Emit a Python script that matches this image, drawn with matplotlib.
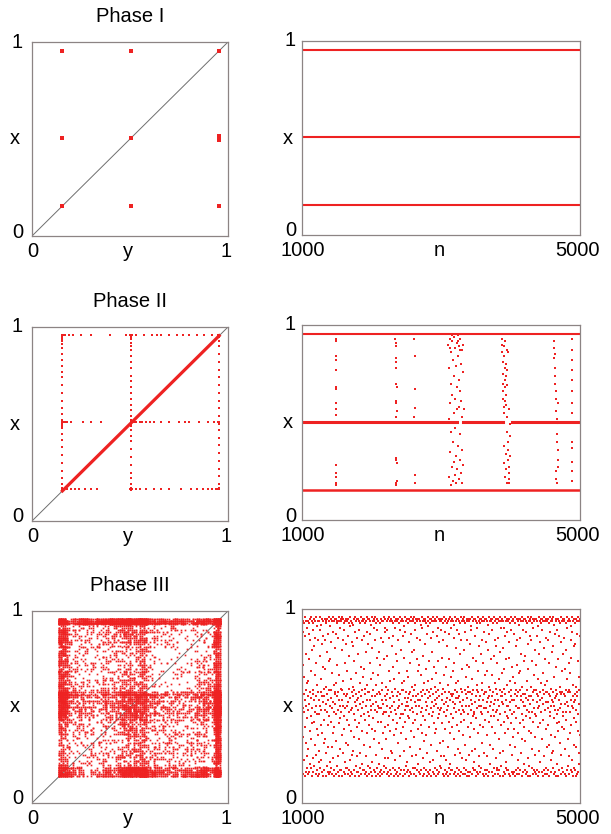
import numpy as np
import matplotlib.pyplot as plt

plt.rcParams['font.family'] = ['Liberation Sans', 'DejaVu Sans']

RED = '#ee2222'
SPINE = '#8c8484'
DIAG = '#6e6e6e'
FS = 14.5
PX = 0.72  # points per pixel at dpi 100

# ---------------- data ----------------
# Phase I : period-3 cycle
p1_levels = [0.155, 0.505, 0.955]
p1_map_y = [0.155, 0.505, 0.955, 0.155, 0.505, 0.955, 0.955, 0.155, 0.505, 0.955]
p1_map_x = [0.955, 0.955, 0.955, 0.505, 0.505, 0.497, 0.513, 0.155, 0.155, 0.155]
n_range = [1000, 5000]

# Phase II : synchronised diagonal + desync excursions
p2_diag = [0.155, 0.955]
p2_levels = [0.155, 0.505, 0.955]
p2_top_seg = [(1000, 5000)]
p2_mid_seg = [(1000, 3228), (3318, 3898), (4015, 4655), (4690, 5000)]
p2_bot_seg = [(1000, 5000)]

p2_burst_n = [1485, 1488, 1490, 1492, 1489, 1491, 1487, 1493, 1490, 1488, 1492, 1490, 1494, 1486, 1489,
              2345, 2350, 2352, 2355, 2357, 2358, 2356, 2360, 2354, 2358, 2362, 2350, 2356, 2359, 2361, 2363, 2348, 2353,
              2618, 2620, 2619, 2621, 2617, 2622, 2620,
              3105, 3110, 3118, 3120, 3125, 3130, 3135, 3138, 3140, 3145, 3150, 3155, 3160, 3163, 3168, 3172, 3175,
              3180, 3184, 3188, 3192, 3196, 3200, 3204, 3208, 3212, 3216, 3220, 3224, 3228, 3232, 3236, 3240, 3244,
              3248, 3252, 3256, 3260, 3264, 3268, 3272, 3276, 3280, 3284, 3288, 3292, 3296, 3300, 3304, 3308, 3312,
              3316, 3320, 3324, 3280, 3240, 3160, 3130,
              3875, 3880, 3884, 3888, 3890, 3893, 3896, 3899, 3902, 3905, 3908, 3911, 3914, 3917, 3920, 3924, 3927,
              3930, 3933, 3936, 3940, 3943, 3946, 3950, 3953, 3956, 3960, 3964, 3968, 3972, 3976, 3980, 3985, 3990,
              3995, 3900, 3910, 3920, 3930, 3940, 3950, 3960, 3975, 3990,
              4620, 4625, 4630, 4635, 4640, 4645, 4650, 4655, 4660, 4665, 4670, 4675, 4680, 4684, 4688, 4650, 4660,
              4670, 4640, 4680,
              4878, 4880, 4882, 4879, 4881, 4883, 4880, 4882, 4879, 4881, 4884, 4880, 4882]
p2_burst_x = [0.93, 0.92, 0.84, 0.82, 0.77, 0.68, 0.67, 0.60, 0.57, 0.54, 0.28, 0.24, 0.22, 0.19, 0.18,
              0.93, 0.91, 0.89, 0.83, 0.81, 0.78, 0.70, 0.68, 0.61, 0.60, 0.56, 0.53, 0.32, 0.31, 0.29, 0.20, 0.19, 0.18,
              0.93, 0.84, 0.67, 0.575, 0.53, 0.23, 0.19,
              0.90, 0.52, 0.22, 0.78, 0.60, 0.35, 0.93, 0.18, 0.70, 0.45, 0.86, 0.27, 0.64, 0.92, 0.40, 0.20, 0.82,
              0.55, 0.30, 0.74, 0.94, 0.23, 0.62, 0.88, 0.47, 0.33, 0.79, 0.19, 0.57, 0.91, 0.68, 0.26, 0.84, 0.38,
              0.95, 0.72, 0.21, 0.58, 0.89, 0.31, 0.66, 0.93, 0.44, 0.24, 0.80, 0.61, 0.36, 0.87, 0.19, 0.53, 0.76,
              0.28, 0.90, 0.57, 0.87, 0.92, 0.95, 0.88,
              0.93, 0.90, 0.86, 0.81, 0.75, 0.70, 0.66, 0.62, 0.58, 0.55, 0.89, 0.84, 0.78, 0.72, 0.68, 0.61, 0.92,
              0.80, 0.74, 0.64, 0.59, 0.87, 0.77, 0.69, 0.53, 0.45, 0.40, 0.36, 0.31, 0.27, 0.24, 0.21, 0.19, 0.43,
              0.33, 0.38, 0.29, 0.22, 0.34, 0.26, 0.19, 0.86, 0.57, 0.49,
              0.92, 0.88, 0.83, 0.78, 0.74, 0.70, 0.66, 0.62, 0.56, 0.52, 0.44, 0.40, 0.36, 0.31, 0.27, 0.25, 0.21,
              0.19, 0.85, 0.60,
              0.93, 0.87, 0.82, 0.77, 0.72, 0.66, 0.60, 0.55, 0.40, 0.37, 0.30, 0.25, 0.20]

# Phase II return plot: excursions along the grid lines
p2_col_y = [0.155, 0.505, 0.955]
p2_col_x = [
    [0.96, 0.955, 0.95, 0.94, 0.93, 0.91, 0.89, 0.86, 0.83, 0.80, 0.77, 0.74, 0.70, 0.66, 0.62, 0.58,
     0.55, 0.52, 0.51, 0.50, 0.49, 0.48, 0.45, 0.42, 0.38, 0.34, 0.30, 0.26, 0.22, 0.19, 0.17, 0.165],
    [0.96, 0.955, 0.95, 0.94, 0.92, 0.90, 0.88, 0.85, 0.82, 0.79, 0.75, 0.72, 0.69, 0.66, 0.63, 0.60,
     0.57, 0.54, 0.52, 0.51, 0.50, 0.49, 0.47, 0.44, 0.41, 0.37, 0.33, 0.29, 0.25, 0.22, 0.19, 0.17, 0.165, 0.16],
    [0.95, 0.93, 0.90, 0.86, 0.82, 0.78, 0.74, 0.70, 0.66, 0.62, 0.58, 0.54, 0.51, 0.50, 0.47, 0.43,
     0.39, 0.35, 0.31, 0.27, 0.23, 0.19, 0.17, 0.165],
]
p2_row_x = [0.96, 0.512, 0.164]
p2_row_y = [
    [0.155, 0.16, 0.17, 0.19, 0.21, 0.25, 0.30, 0.40, 0.48, 0.50, 0.51, 0.53, 0.57, 0.61, 0.64, 0.66,
     0.70, 0.74, 0.77, 0.80, 0.84, 0.88, 0.92, 0.95],
    [0.16, 0.17, 0.18, 0.20, 0.26, 0.30, 0.35, 0.52, 0.53, 0.55, 0.56, 0.58, 0.60, 0.62, 0.66, 0.70,
     0.75, 0.78, 0.80, 0.85, 0.90, 0.93, 0.95],
    [0.16, 0.18, 0.20, 0.22, 0.24, 0.27, 0.30, 0.33, 0.50, 0.51, 0.53, 0.55, 0.58, 0.62, 0.66, 0.70,
     0.76, 0.81, 0.84, 0.87, 0.90, 0.92, 0.94, 0.95],
]

# Phase III : x(n) in percent, n = 1000..5000
p3_x = [
    95, 52, 17, 88, 49, 71, 15, 34, 94, 56, 22, 93, 47, 65, 14, 86, 53, 39, 96, 16, 58, 77, 31, 94, 50, 18, 90, 44, 62, 24,
    48, 94, 15, 63, 55, 28, 93, 87, 16, 51, 74, 37, 95, 20, 57, 84, 45, 18, 96, 68, 33, 54, 14, 94, 79, 49, 41, 89, 23, 56,
    16, 93, 58, 81, 42, 95, 53, 19, 66, 30, 94, 85, 47, 15, 55, 72, 25, 96, 50, 38, 17, 91, 61, 46, 94, 14, 35, 57, 84, 21,
    94, 46, 27, 53, 15, 76, 96, 89, 50, 18, 40, 57, 92, 64, 22, 48, 16, 82, 95, 55, 36, 14, 70, 52, 94, 86, 43, 17, 59, 31,
    55, 17, 95, 69, 48, 33, 84, 94, 14, 51, 60, 26, 93, 47, 19, 78, 56, 95, 40, 87, 16, 53, 29, 94, 73, 45, 15, 58, 96, 21,
    91, 50, 16, 74, 58, 42, 95, 18, 83, 54, 29, 94, 67, 15, 49, 36, 96, 88, 52, 23, 17, 61, 94, 47, 39, 14, 56, 80, 95, 57,
    51, 95, 62, 15, 46, 87, 32, 94, 55, 19, 71, 93, 48, 24, 16, 57, 85, 41, 96, 53, 14, 66, 94, 28, 50, 90, 17, 44, 95, 59,
    17, 94, 47, 79, 53, 35, 96, 14, 58, 84, 26, 95, 50, 63, 16, 45, 93, 38, 56, 89, 21, 94, 15, 72, 49, 55, 31, 95, 18, 82,
    94, 56, 18, 43, 50, 68, 95, 86, 15, 52, 30, 93, 76, 47, 17, 59, 40, 96, 22, 54, 14, 91, 64, 48, 94, 37, 16, 57, 83, 25,
    49, 93, 15, 60, 55, 27, 92, 81, 17, 46, 73, 58, 95, 34, 14, 52, 88, 96, 43, 19, 56, 67, 94, 50, 16, 39, 85, 53, 24, 95,
    95, 16, 54, 77, 48, 33, 94, 57, 14, 89, 41, 62, 93, 51, 18, 26, 96, 45, 70, 55, 15, 84, 94, 37, 49, 20, 58, 95, 65, 17,
    52, 94, 17, 69, 46, 86, 95, 30, 56, 15, 43, 93, 59, 78, 16, 50, 24, 94, 88, 53, 36, 14, 61, 96, 47, 57, 19, 82, 95, 40,
    15, 95, 57, 45, 72, 94, 53, 18, 29, 87, 50, 92, 64, 16, 48, 38, 96, 55, 21, 80, 14, 51, 94, 67, 44, 58, 17, 90, 95, 33,
    94, 48, 16, 84, 55, 37, 96, 61, 14, 52, 25, 93, 75, 47, 18, 56, 89, 95, 42, 50, 15, 66, 94, 31, 57, 20, 49, 78, 93, 16,
    56, 93, 14, 71, 49, 42, 95, 17, 85, 53, 28, 94, 62, 58, 15, 46, 94, 36, 83, 51, 19, 96, 74, 47, 16, 55, 39, 88, 95, 23,
    90, 53, 18, 60, 47, 33, 94, 89, 15, 56, 76, 50, 95, 40, 16, 58, 23, 96, 68, 45, 14, 85, 94, 54, 37, 17, 49, 63, 95, 27,
    47, 95, 15, 81, 57, 26, 94, 50, 18, 70, 43, 93, 55, 86, 14, 52, 35, 96, 64, 48, 17, 90, 94, 59, 22, 46, 15, 77, 95, 38,
    16, 94, 55, 41, 73, 95, 49, 14, 84, 57, 31, 93, 50, 67, 18, 53, 89, 96, 44, 24, 15, 56, 94, 79, 46, 36, 17, 58, 95, 62,
    95, 51, 14, 86, 46, 39, 94, 58, 17, 63, 27, 91, 75, 54, 15, 48, 96, 42, 88, 50, 19, 57, 94, 33, 68, 16, 52, 21, 95, 45,
    54, 93, 17, 65, 50, 44, 95, 83, 14, 56, 29, 94, 72, 48, 16, 57, 37, 96, 87, 53, 15, 60, 94, 24, 49, 78, 18, 55, 95, 41,
    94, 47, 15, 79, 58, 34, 96, 52, 18, 89, 43, 93, 61, 50, 14, 55, 25, 95, 74, 46, 17, 85, 94, 38, 56, 20, 53, 68, 95, 16,
    50, 95, 16, 71, 53, 28, 94, 84, 15, 47, 40, 92, 57, 66, 17, 55, 90, 96, 36, 49, 14, 76, 94, 58, 23, 45, 18, 62, 95, 32,
    15, 94, 56, 43, 82, 95, 48, 17, 69, 52, 35, 93, 58, 87, 14, 50, 26, 96, 63, 54, 16, 91, 94, 46, 39, 57, 15, 73, 95, 21,
    93, 55, 17, 85, 49, 30, 95, 59, 14, 64, 45, 94, 52, 78, 16, 47, 22, 96, 56, 88, 15, 41, 94, 50, 70, 18, 53, 36, 95, 60,
    57, 94, 14, 67, 51, 38, 96, 86, 17, 54, 27, 90, 49, 73, 15, 58, 44, 95, 83, 46, 16, 55, 94, 31, 62, 19, 48, 89, 95, 24,
    94, 49, 18, 75, 56, 41, 95, 53, 15, 84, 32, 93, 59, 47, 14, 66, 96, 51, 24, 88, 17, 57, 94, 38, 45, 15, 52, 70, 95, 22,
    48, 93, 16, 81, 54, 29, 94, 61, 14, 50, 87, 95, 42, 57, 18, 74, 36, 96, 53, 20, 15, 46, 94, 65, 56, 90, 17, 39, 95, 55,
    17, 95, 52, 44, 68, 94, 56, 15, 85, 49, 33, 92, 72, 58, 16, 51, 25, 96, 80, 47, 14, 62, 94, 54, 40, 18, 57, 89, 95, 28,
    95, 54, 15, 63, 48, 37, 94, 87, 17, 55, 26, 93, 77, 52, 14, 46, 59, 96, 42, 84, 16, 50, 94, 69, 23, 57, 15, 35, 95, 48,
    53, 94, 18, 79, 47, 43, 96, 58, 15, 88, 30, 93, 56, 65, 17, 50, 22, 95, 71, 54, 14, 84, 94, 46, 39, 16, 57, 60, 95, 25,
    94, 50, 14, 70, 57, 34, 95, 82, 16, 48, 41, 91, 53, 89, 15, 56, 27, 96, 64, 51, 18, 45, 94, 75, 58, 21, 47, 38, 95, 17,
    46, 95, 17, 86, 52, 28, 94, 55, 14, 73, 44, 93, 58, 61, 16, 49, 90, 96, 36, 57, 15, 68, 94, 53, 24, 50, 19, 81, 95, 40,
    16, 93, 55, 47, 77, 95, 50, 18, 62, 58, 31, 94, 84, 46, 15, 53, 39, 96, 72, 56, 14, 88, 94, 49, 26, 57, 17, 66, 95, 43,
    95, 57, 15, 83, 49, 35, 94, 68, 17, 52, 24, 92, 79, 54, 14, 47, 60, 96, 42, 87, 16, 55, 94, 30, 50, 20, 58, 74, 95, 45,
    52, 94, 16, 66, 55, 39, 95, 89, 14, 48, 28, 93, 57, 76, 18, 51, 45, 96, 84, 53, 15, 62, 94, 36, 59, 23, 47, 81, 95, 17,
    93, 48, 18, 72, 56, 43, 95, 53, 15, 85, 33, 94, 50, 64, 17, 58, 26, 96, 78, 46, 14, 90, 94, 55, 40, 19, 52, 67, 95, 57,
    55, 95, 14, 80, 51, 27, 94, 59, 16, 69, 42, 90, 47, 86, 15, 56, 36, 96, 53, 21, 18, 74, 94, 50, 61, 45, 17, 88, 95, 38,
    17, 94, 50, 44, 75, 95, 57, 15, 83, 52, 30, 93, 63, 48, 14, 55, 89, 96, 41, 58, 16, 70, 94, 46, 25, 53, 15, 65, 95, 34,
    94, 53, 16, 87, 47, 38, 96, 56, 14, 62, 29, 93, 81, 50, 17, 58, 44, 95, 71, 55, 15, 84, 94, 49, 22, 57, 18, 36, 95, 67,
    49, 92, 15, 68, 58, 41, 95, 85, 17, 53, 26, 94, 55, 77, 14, 46, 60, 96, 33, 52, 16, 89, 94, 56, 43, 20, 50, 73, 95, 39,
    95, 56, 17, 76, 50, 32, 94, 54, 15, 88, 45, 93, 58, 63, 16, 48, 23, 96, 82, 53, 14, 69, 94, 47, 37, 19, 55, 86, 95, 44,
    51, 94, 14, 84, 55, 36, 96, 60, 18, 47, 28, 93, 73, 57, 15, 53, 90, 95, 42, 49, 17, 66, 94, 58, 25, 46, 16, 79, 95, 34,
    15, 95, 58, 45, 71, 94, 52, 17, 86, 56, 39, 91, 49, 64, 14, 55, 27, 96, 77, 50, 16, 83, 94, 53, 41, 21, 57, 62, 95, 47,
    93, 47, 16, 89, 54, 33, 95, 58, 14, 67, 43, 94, 51, 80, 17, 56, 24, 96, 61, 48, 15, 74, 94, 52, 38, 18, 57, 85, 95, 29,
    57, 94, 15, 63, 49, 40, 95, 84, 17, 52, 30, 93, 56, 72, 14, 47, 88, 96, 45, 55, 16, 59, 94, 35, 50, 22, 53, 78, 95, 26,
    94, 52, 18, 81, 57, 27, 96, 50, 15, 65, 44, 92, 87, 54, 16, 48, 34, 95, 70, 58, 14, 55, 94, 41, 46, 20, 56, 89, 95, 37,
    48, 95, 14, 74, 53, 42, 94, 86, 17, 57, 31, 93, 60, 49, 15, 56, 25, 96, 83, 51, 18, 68, 94, 57, 39, 16, 47, 77, 95, 45,
    16, 94, 56, 38, 85, 95, 51, 15, 69, 55, 28, 93, 79, 47, 14, 58, 43, 96, 64, 52, 17, 90, 94, 50, 33, 19, 57, 72, 95, 24,
    95, 58, 15, 67, 47, 36, 94, 57, 17, 84, 40, 91, 53, 75, 16, 50, 22, 96, 88, 55, 14, 61, 94, 49, 44, 18, 52, 81, 95, 30,
    53, 93, 17, 82, 56, 29, 95, 60, 14, 48, 42, 94, 55, 87, 15, 57, 37, 96, 73, 46, 16, 65, 94, 51, 26, 20, 58, 86, 95, 35,
]
# the return map pairs x(n) with the partner unit; partner offsets along the record
p3_partner_offsets = [301, 547, 793, 917, 1163, 1286]

# ---------------- figure ----------------
W, H = 611, 834
fig = plt.figure(figsize=(W / 100, H / 100), dpi=100)


def add_ax(x0, y0, x1, y1):
    return fig.add_axes([x0 / W, 1 - y1 / H, (x1 - x0) / W, (y1 - y0) / H])


def dress(ax, lo, hi, name, ytick_dx, title=None):
    ax.set_xticks([])
    ax.set_yticks([])
    for sp in ax.spines.values():
        sp.set_color(SPINE)
        sp.set_linewidth(0.9)
    kw = dict(xycoords='axes fraction', textcoords='offset points', fontsize=FS)
    ax.annotate('1', (0, 1), xytext=(ytick_dx * PX, 0), ha='right', va='center', **kw)
    ax.annotate('0', (0, 0), xytext=(ytick_dx * PX, 4 * PX), ha='right', va='center', **kw)
    ax.annotate('x', (0, 0.5), xytext=((ytick_dx - 8) * PX, 0), ha='center', va='center', **kw)
    ax.annotate(lo, (0, 0), xytext=(1 * PX, -21 * PX), ha='center', va='baseline', **kw)
    ax.annotate(hi, (1, 0), xytext=(-2 * PX, -21 * PX), ha='center', va='baseline', **kw)
    ax.annotate(name, (0.5, 0), xytext=(-2 * PX, -21 * PX), ha='center', va='baseline', **kw)
    if title:
        ax.annotate(title, (0.5, 1), xytext=(0, 20 * PX), ha='center', va='baseline', **kw)


def map_axes(box, title):
    ax = add_ax(*box)
    ax.set_xlim(0, 1)
    ax.set_ylim(0, 1)
    ax.plot([0, 1], [0, 1], color=DIAG, lw=0.7, zorder=1)
    dress(ax, '0', '1', 'y', -9, title)
    return ax


def series_axes(box):
    ax = add_ax(*box)
    ax.set_xlim(n_range)
    ax.set_ylim(0, 1)
    dress(ax, '1000', '5000', 'n', -6)
    return ax


dot = dict(ls='none', marker='s', mew=0, color=RED, zorder=2)

# Phase I
ax = map_axes((32, 42, 228, 236), 'Phase I')
ax.plot(p1_map_y, p1_map_x, ms=2.2, **dot)
ax = series_axes((302, 41, 580, 235))
for lv in p1_levels:
    ax.plot(n_range, [lv, lv], color=RED, lw=1.5)

# Phase II
ax = map_axes((32, 327, 228, 521), 'Phase II')
ax.plot(p2_diag, p2_diag, color=RED, lw=2.3, zorder=2)
for yv, xs in zip(p2_col_y, p2_col_x):
    ax.plot([yv] * len(xs), xs, ms=1.6, **dot)
for xv, ys in zip(p2_row_x, p2_row_y):
    ax.plot(ys, [xv] * len(ys), ms=1.6, **dot)

ax = series_axes((302, 325, 580, 520))
for segs, lv, lw in [(p2_top_seg, p2_levels[2], 1.5), (p2_mid_seg, p2_levels[1], 2.2),
                     (p2_bot_seg, p2_levels[0], 1.8)]:
    for a, b in segs:
        ax.plot([a, b], [lv, lv], color=RED, lw=lw)
ax.plot(p2_burst_n, p2_burst_x, ms=1.5, **dot)

# Phase III
x3 = np.array(p3_x) / 100.0
ax = map_axes((32, 611, 228, 803), 'Phase III')
for k in p3_partner_offsets:
    ax.plot(np.roll(x3, k), x3, ms=1.2, **dot)
ax = series_axes((302, 609, 580, 803))
n3 = np.linspace(n_range[0], n_range[1], len(x3))
ax.plot(n3, x3, ms=1.8, **dot)

fig.savefig('out.png', dpi=100)
